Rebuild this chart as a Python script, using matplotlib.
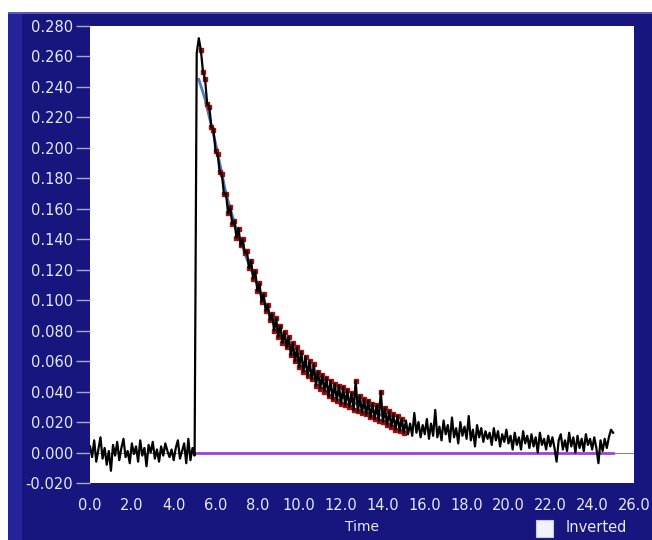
import numpy as np
import matplotlib
matplotlib.use("Agg")
import matplotlib.pyplot as plt
from matplotlib.patches import Rectangle

t_start = 0.0
t_step = 0.1

signal = [
    # 0.0 - 4.9 baseline
    0.004, -0.003, 0.008, -0.006, 0.002, 0.010, -0.004, 0.003, -0.008, 0.001,
    -0.012, 0.005, -0.002, 0.007, -0.005, 0.003, 0.009, -0.003, 0.001, -0.007,
    0.006, -0.001, 0.004, -0.006, 0.008, -0.002, 0.003, -0.009, 0.005, 0.000,
    0.007, -0.004, 0.002, -0.006, 0.004, -0.002, 0.006, 0.001, -0.003, 0.002,
    -0.005, 0.003, 0.008, -0.004, 0.001, 0.006, -0.007, 0.009, -0.005, 0.003,
    # 5.0
    -0.002,
    # 5.1 - 15.0 decay
    0.262, 0.272, 0.264, 0.250, 0.245, 0.229, 0.227, 0.214, 0.212, 0.198,
    0.196, 0.184, 0.183, 0.170, 0.170, 0.157, 0.161, 0.150, 0.152, 0.141,
    0.147, 0.136, 0.140, 0.131, 0.132, 0.121, 0.126, 0.114, 0.119, 0.106,
    0.111, 0.099, 0.104, 0.093, 0.097, 0.087, 0.091, 0.080, 0.088, 0.076,
    0.083, 0.072, 0.079, 0.069, 0.076, 0.064, 0.072, 0.060, 0.069, 0.056,
    0.066, 0.053, 0.063, 0.050, 0.060, 0.048, 0.058, 0.044, 0.053, 0.042,
    0.051, 0.040, 0.049, 0.037, 0.047, 0.035, 0.045, 0.034, 0.044, 0.032,
    0.043, 0.031, 0.041, 0.030, 0.039, 0.028, 0.047, 0.027, 0.037, 0.026,
    0.035, 0.025, 0.034, 0.023, 0.032, 0.022, 0.031, 0.021, 0.040, 0.020,
    0.029, 0.018, 0.027, 0.017, 0.025, 0.015, 0.024, 0.014, 0.022, 0.013,
    # 15.1 - 25.0 tail
    0.021, 0.012, 0.019, 0.011, 0.026, 0.013, 0.020, 0.010, 0.018, 0.012,
    0.022, 0.009, 0.019, 0.011, 0.028, 0.010, 0.017, 0.008, 0.021, 0.012,
    0.018, 0.007, 0.023, 0.010, 0.016, 0.006, 0.020, 0.011, 0.017, 0.009,
    0.024, 0.008, 0.015, 0.004, 0.018, 0.010, 0.016, 0.007, 0.014, 0.009,
    0.013, 0.005, 0.016, 0.008, 0.014, 0.004, 0.012, 0.007, 0.015, 0.006,
    0.011, 0.002, 0.013, 0.005, 0.010, 0.002, 0.014, 0.006, 0.011, 0.003,
    0.012, 0.004, 0.010, 0.000, 0.013, 0.005, 0.009, 0.002, 0.011, 0.004,
    0.010, 0.003, -0.006, 0.008, 0.012, 0.002, 0.008, 0.001, 0.013, 0.004,
    0.010, 0.000, 0.011, 0.003, 0.009, 0.001, 0.012, 0.005, 0.009, 0.002,
    0.010, 0.003, -0.007, 0.008, 0.001, 0.009, 0.003, 0.010, 0.015, 0.013,
]

# range of samples used in the fit (red points)
fit_from = 5.3
fit_to = 15.0

# fitted curve
fit_time = [5.2, 5.5, 6.0, 6.5, 7.0, 7.5, 8.0, 8.5, 9.0, 10.0, 11.0, 12.0, 13.0, 14.0, 15.0]
fit_value = [0.245, 0.232, 0.203, 0.170, 0.146, 0.127, 0.110, 0.093, 0.081,
             0.061, 0.047, 0.037, 0.030, 0.024, 0.018]

# zero line of the fit
zero_time = [5.07, 25.0]
zero_value = [0.0, 0.0]

x_ticks = [0, 2, 4, 6, 8, 10, 12, 14, 16, 18, 20, 22, 24, 26]
y_ticks = [-0.02, 0.0, 0.02, 0.04, 0.06, 0.08, 0.10, 0.12, 0.14, 0.16,
           0.18, 0.20, 0.22, 0.24, 0.26, 0.28]

signal = np.array(signal)
time = t_start + t_step * np.arange(len(signal))
sel = (time >= fit_from - 1e-9) & (time <= fit_to + 1e-9)

navy = "#16167e"
pale = "#e6e8f6"

# Figure and dark frame (behind the axes)
fig = plt.figure(figsize=(6.52, 5.40), dpi=100)
fig.patch.set_facecolor("white")
fig.patches.append(Rectangle((8 / 652, 0), 1, 528 / 540, transform=fig.transFigure,
                             facecolor=navy, edgecolor="none", zorder=-10))
fig.patches.append(Rectangle((8 / 652, 0), 14 / 652, 528 / 540, transform=fig.transFigure,
                             facecolor="#24249a", edgecolor="none", zorder=-9))
fig.patches.append(Rectangle((8 / 652, 526 / 540), 1, 2 / 540, transform=fig.transFigure,
                             facecolor="#5a5ab8", edgecolor="none", zorder=-9))

axes = fig.add_axes([90 / 652, 57 / 540, 544 / 652, 457 / 540])
axes.set_facecolor("white")

# Plot
axes.axhline(0, color="#888888", lw=0.8, zorder=1)
axes.plot(zero_time, zero_value, color="#a040d8", lw=2, zorder=2)
axes.plot(fit_time, fit_value, color="#4a7cc0", lw=2, zorder=2)
axes.plot(time[sel], signal[sel], linestyle="none", marker="s", ms=3.2,
          color="#a01010", zorder=3)
axes.plot(time, signal, color="black", lw=1.6, zorder=4)

# Axes scale and ticks
axes.set_xlim(0, 26)
axes.set_ylim(-0.02, 0.28)
axes.set_xticks(x_ticks)
axes.set_xticklabels(["%.1f" % v for v in x_ticks])
axes.set_yticks(y_ticks)
axes.set_yticklabels(["%.3f" % v for v in y_ticks])
axes.tick_params(axis="y", colors=pale, labelsize=10.5, length=10, width=1, pad=2)
axes.tick_params(axis="y", color="#a8a8c8")
axes.tick_params(axis="x", colors=pale, labelsize=10.5, length=0, pad=11)
for s in axes.spines.values():
    s.set_visible(False)

# Labels
fig.text(362 / 652, 1 - 527 / 540, "Time", color=pale, fontsize=10,
         ha="center", va="center")
fig.patches.append(Rectangle((536 / 652, 3 / 540), 17 / 652, 17 / 540,
                             transform=fig.transFigure, facecolor="#f2f2fa",
                             edgecolor="#c8c8e0", lw=0.8, zorder=1))
fig.text(566 / 652, 1 - 528 / 540, "Inverted", color=pale, fontsize=10.5,
         ha="left", va="center")

fig.savefig("out.png", dpi=100, facecolor=fig.get_facecolor())
